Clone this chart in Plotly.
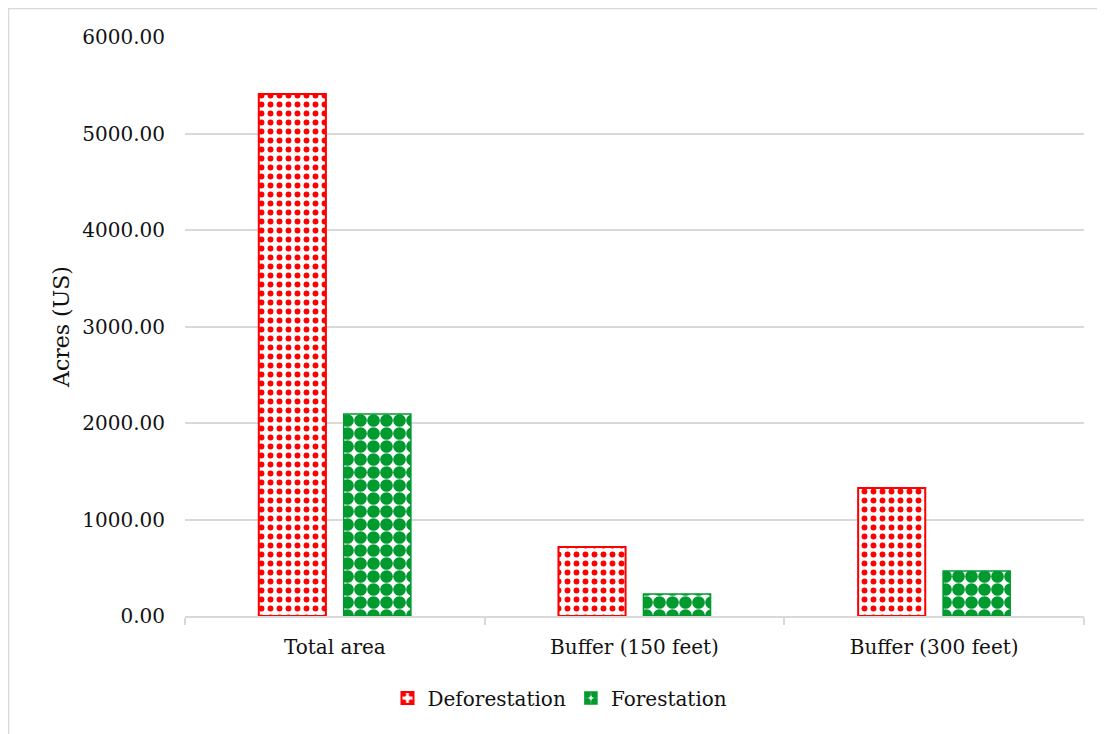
import plotly.graph_objects as go

categories = ["Total area", "Buffer (150 feet)", "Buffer (300 feet)"]
deforestation = [5410, 715, 1326]
forestation = [2093, 228, 466]
y_ticks = [0, 1000, 2000, 3000, 4000, 5000, 6000]
y_tick_labels = ["0.00", "1000.00", "2000.00", "3000.00", "4000.00", "5000.00", "6000.00"]

RED = "#FF0000"
GREEN = "#009A2E"
FONT = "DejaVu Serif"

fig = go.Figure()
fig.add_trace(go.Bar(
    name="Deforestation", x=categories, y=deforestation,
    marker=dict(color="white", line=dict(color=RED, width=2),
                pattern=dict(shape=".", fgcolor=RED, bgcolor="white", fgopacity=1,
                             size=9, solidity=0.33, fillmode="replace")),
))
fig.add_trace(go.Bar(
    name="Forestation", x=categories, y=forestation,
    marker=dict(color="white", line=dict(color=GREEN, width=1.5),
                pattern=dict(shape=".", fgcolor=GREEN, bgcolor="white", fgopacity=1,
                             size=13, solidity=0.75, fillmode="replace")),
))

# page body has an 8px margin; figure sized to fit the 1105x734 window
OFF = 8
W, H = 1105 - OFF, 734 - OFF
L, T = 185 - OFF, 37 - OFF
R = W - (1084 - OFF)
B = H - (616 - OFF)
pw = W - L - R
ph = H - T - B

def px_x(v):
    return (v - OFF - L) / pw

def px_y(v):
    return (H - B - (v - OFF)) / ph

fig.update_layout(
    width=W, height=H,
    margin=dict(l=L, r=R, t=T, b=B),
    paper_bgcolor="white", plot_bgcolor="white",
    font=dict(family=FONT, size=20, color="#111111"),
    barmode="group", bargap=0.433, bargroupgap=0.21,
    showlegend=True,
    legend=dict(orientation="h", x=px_x(560), xanchor="center",
                y=px_y(698), yanchor="middle",
                font=dict(family=FONT, size=20, color="#111111"),
                itemwidth=30, tracegroupgap=0),
    shapes=[dict(type="rect", xref="paper", yref="paper",
                 x0=px_x(8.5), x1=px_x(1120), y0=px_y(760), y1=px_y(8.5),
                 line=dict(color="#D9D9D9", width=1.5), fillcolor="rgba(0,0,0,0)",
                 layer="below")],
)
fig.update_xaxes(
    showline=True, linecolor="#D9D9D9", linewidth=1.5,
    ticks="outside", tickson="boundaries", ticklen=7, tickcolor="#D9D9D9", tickwidth=1.5,
    ticklabelstandoff=12,
    showgrid=False, tickfont=dict(family=FONT, size=20, color="#111111"),
)
fig.update_yaxes(
    range=[0, 6000], tickvals=y_ticks, ticktext=y_tick_labels,
    showgrid=True, gridcolor="#D9D9D9", gridwidth=1.5,
    zeroline=False, showline=False, ticks="", ticklabelstandoff=19,
    tickfont=dict(family=FONT, size=20, color="#111111"),
    title=dict(text="Acres (US)", font=dict(family=FONT, size=22, color="#111111"), standoff=6),
)

fig.write_html("out.html")
